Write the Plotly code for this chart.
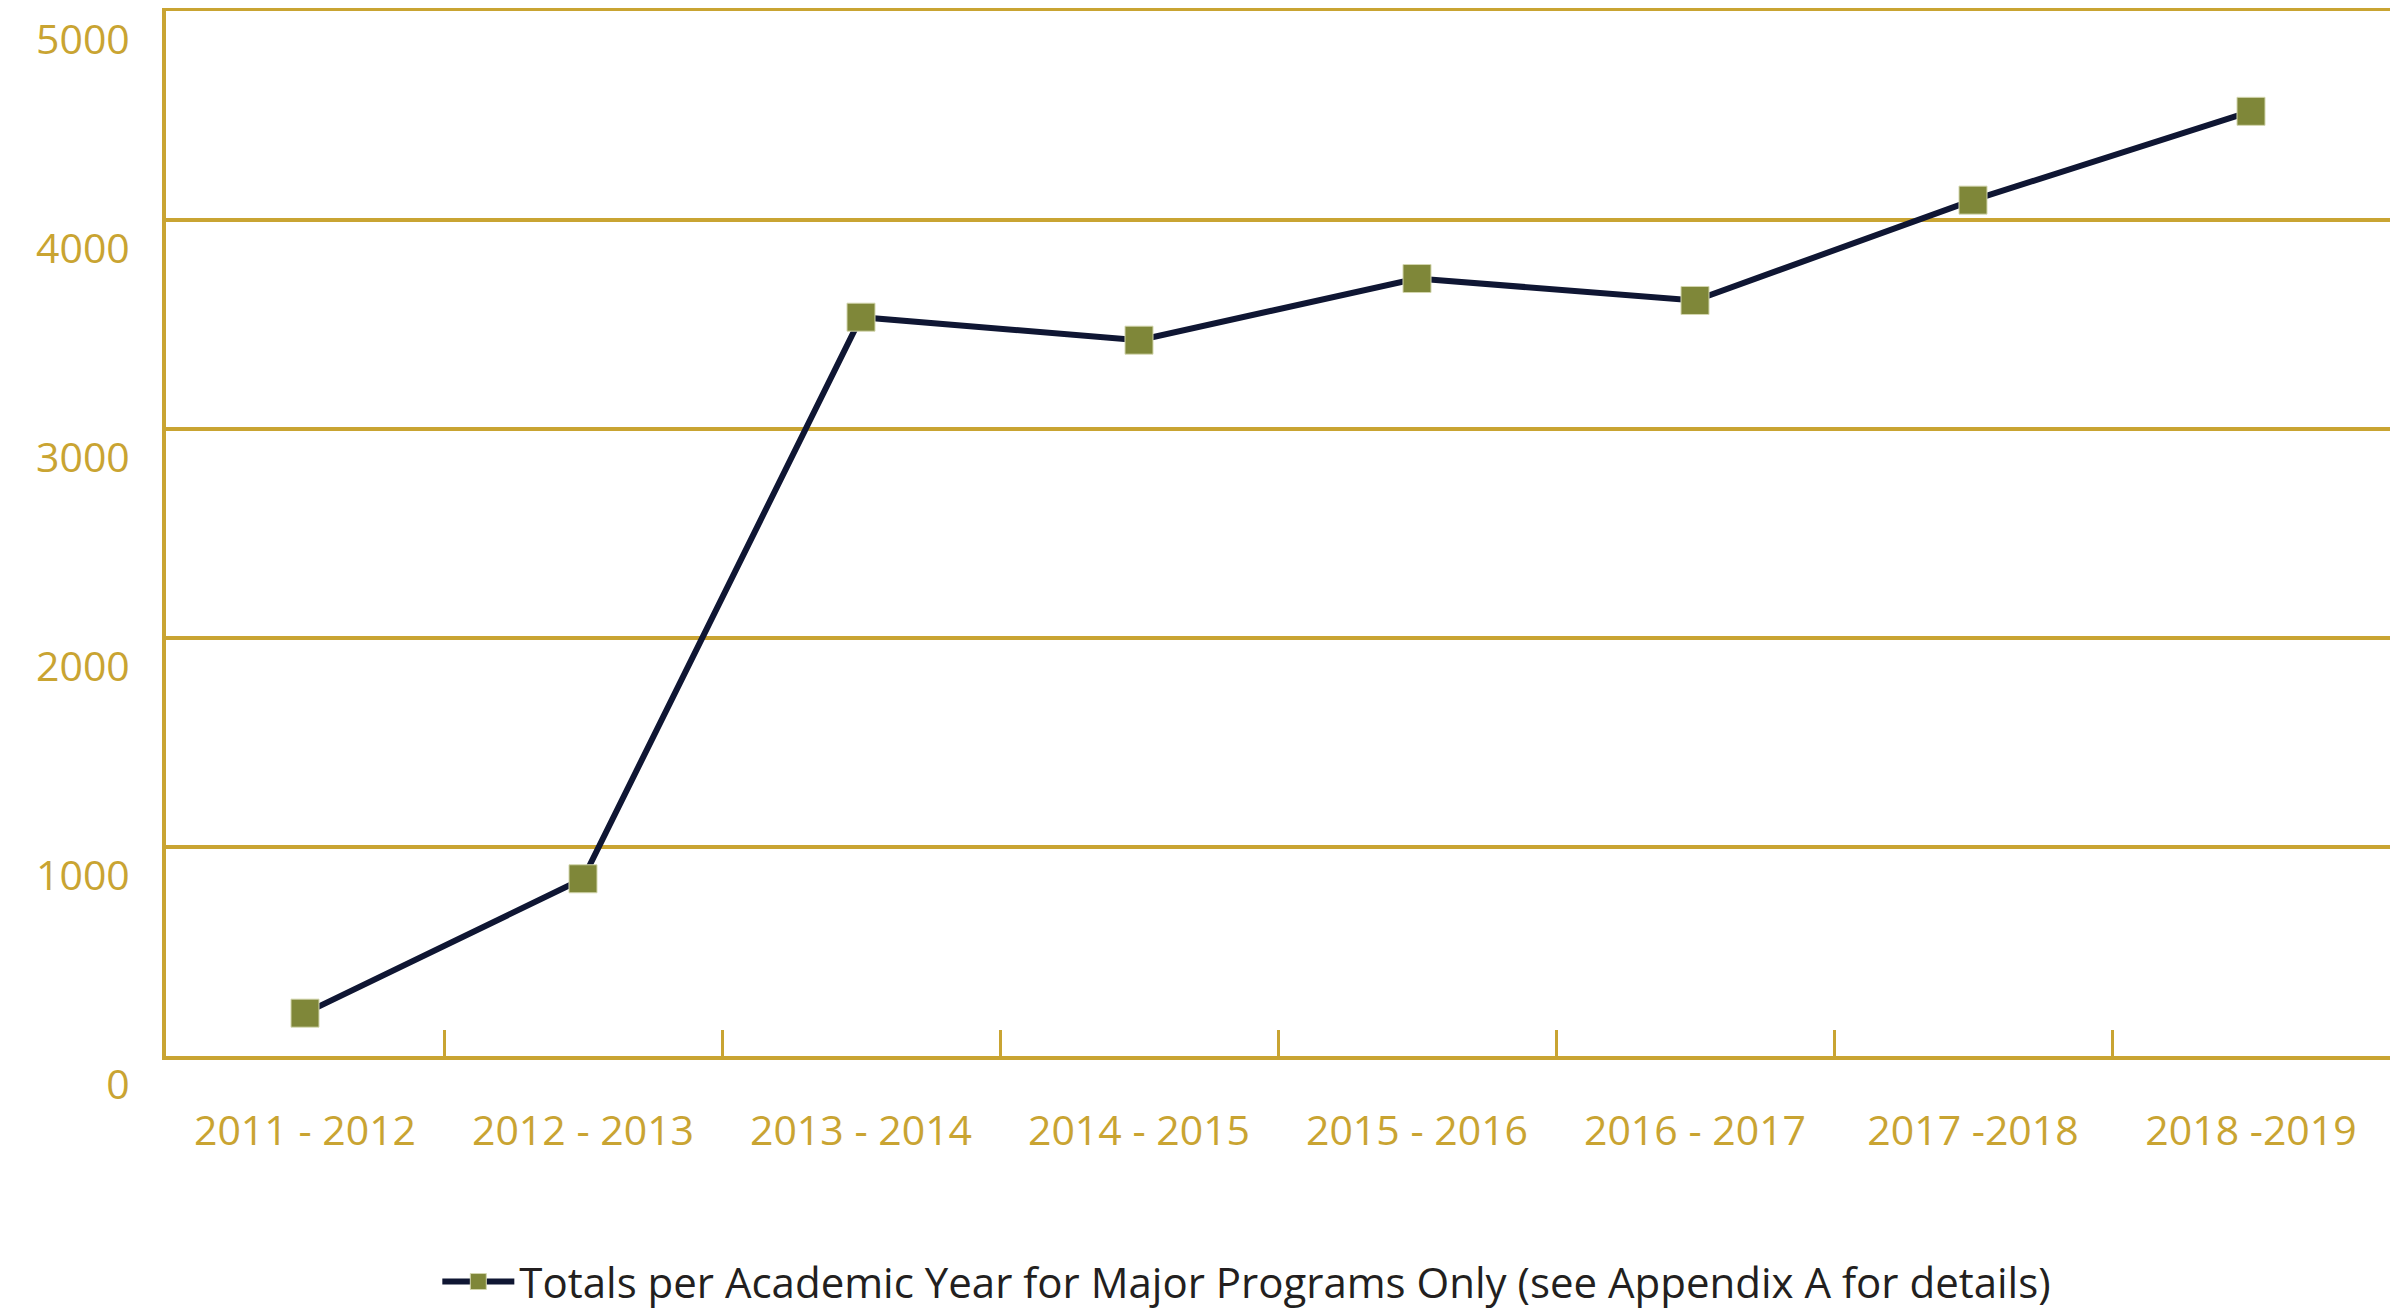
import plotly.graph_objects as go

years = ["2011 - 2012", "2012 - 2013", "2013 - 2014", "2014 - 2015",
         "2015 - 2016", "2016 - 2017", "2017 -2018", "2018 -2019"]
totals = [205, 848, 3535, 3425, 3720, 3615, 4095, 4520]
y_ticks = [0, 1000, 2000, 3000, 4000, 5000]
series_name = "Totals per Academic Year for Major Programs Only (see Appendix A for details)"

GOLD = "#C9A432"
NAVY = "#0F1633"
OLIVE = "#7F8739"
FONT = "Open Sans"
FS = 41

fig = go.Figure()
fig.add_trace(go.Scatter(
    x=years, y=totals, name=series_name, mode="lines+markers",
    line=dict(color=NAVY, width=6),
    marker=dict(symbol="square", size=28, color=OLIVE,
                line=dict(color="#D3D6AE", width=1)),
))

fig.update_layout(
    width=2407, height=1312,
    margin=dict(l=158, r=25, t=3, b=264, autoexpand=False),
    paper_bgcolor="white", plot_bgcolor="white",
    font=dict(family=FONT, color=GOLD, size=FS),
    showlegend=True,
    legend=dict(orientation="h", x=0.122, xanchor="left", y=-0.216, yanchor="middle",
                font=dict(family=FONT, color="#231F20", size=42),
                itemwidth=72, bgcolor="rgba(0,0,0,0)"),
    xaxis=dict(
        type="category", range=[-0.5, 7.5], automargin=False,
        showline=True, linecolor=GOLD, linewidth=4, mirror=True,
        showgrid=False, zeroline=False,
        ticks="inside", tickson="boundaries", ticklen=26, tickwidth=3, tickcolor=GOLD,
        ticklabelstandoff=36,
        tickfont=dict(family=FONT, color=GOLD, size=FS),
    ),
    yaxis=dict(
        range=[0, 5000], tickvals=y_ticks, ticktext=[str(v) for v in y_ticks],
        automargin=False, ticklabeloverflow="allow",
        ticklabelposition="outside bottom",
        showline=True, linecolor=GOLD, linewidth=4,
        showgrid=True, gridcolor=GOLD, gridwidth=4,
        zeroline=False, ticks="",
        ticklabelstandoff=24,
        tickfont=dict(family=FONT, color=GOLD, size=FS),
    ),
)

fig.write_html("out.html")
